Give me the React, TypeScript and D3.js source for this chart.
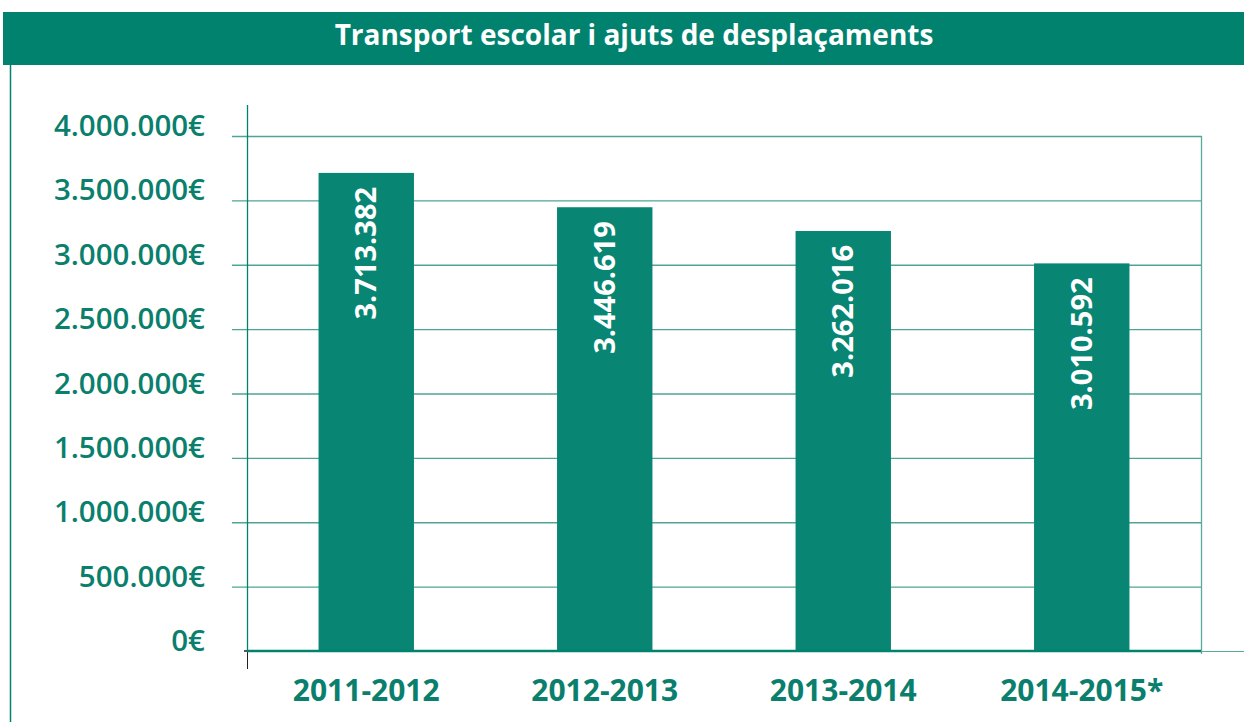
import React from 'react';
import * as d3 from 'd3';

const title = 'Transport escolar i ajuts de desplaçaments';
const categories = ['2011-2012', '2012-2013', '2013-2014', '2014-2015*'];
const values = [3713382, 3446619, 3262016, 3010592];
const yTicks = [0, 500000, 1000000, 1500000, 2000000, 2500000, 3000000, 3500000, 4000000];

const W = 1244;
const H = 722;
const margin = { top: 136, right: 43, bottom: 71, left: 247 };
const green = '#00826f';
const barGreen = '#088573';
const textGreen = '#0a7f6d';
const font = '"Open Sans", "DejaVu Sans", sans-serif';

function fmt(v: number) {
  return d3.format(',')(v).replace(/,/g, '.');
}

export default function App() {
  const innerW = W - margin.left - margin.right;
  const innerH = H - margin.top - margin.bottom;

  const x = d3.scaleBand().domain(categories).range([0, innerW]).paddingInner(0.6).paddingOuter(0.3);
  const y = d3.scaleLinear().domain([0, 4000000]).range([innerH, 0]);

  return (
    <svg width={W} height={H} style={{ position: 'absolute', left: 0, top: 0, background: '#fff' }}>
      <rect x={3} y={12} width={W - 3} height={53} fill={green} />
      <text x={634} y={45} textAnchor="middle" fill="#fff" fontFamily={font} fontWeight={700} fontSize={28}>
        {title}
      </text>
      <line x1={10.5} x2={10.5} y1={65} y2={H} stroke={green} strokeWidth={1.5} />

      <g transform={`translate(${margin.left},${margin.top})`}>
        {yTicks.map(t => (
          <g key={t}>
            {t > 0 && (
              <line x1={-15} x2={innerW + 1} y1={y(t) + 0.5} y2={y(t) + 0.5} stroke="#4fa595" strokeWidth={1.3} />
            )}
            <text x={-42} y={y(t) - 0} textAnchor="end" fill={textGreen} fontFamily={font} fontWeight={600} fontSize={29.5}>
              {fmt(t) + '€'}
            </text>
          </g>
        ))}
        <line x1={0.5} x2={0.5} y1={-31} y2={innerH} stroke={green} strokeWidth={1.3} />
        <line x1={0.5} x2={0.5} y1={innerH} y2={innerH + 18} stroke="#222" strokeWidth={1} />
        <line x1={innerW + 0.5} x2={innerW + 0.5} y1={0} y2={innerH + 3} stroke="#5aaa9b" strokeWidth={1.3} />
        <line x1={innerW} x2={W - margin.left} y1={innerH + 0.5} y2={innerH + 0.5} stroke="#5aaa9b" strokeWidth={1} />
        <line x1={-3} x2={0} y1={innerH} y2={innerH} stroke="#222" strokeWidth={1.5} />

        {categories.map((c, i) => (
          <g key={c}>
            <rect x={x(c)} y={y(values[i])} width={x.bandwidth()} height={innerH - y(values[i])} fill={barGreen} />
            <text
              transform={`translate(${(x(c) as number) + x.bandwidth() / 2 + 10},${y(values[i]) + 14}) rotate(-90)`}
              textAnchor="end"
              fill="#fff"
              fontFamily={font}
              fontWeight={700}
              fontSize={29}
            >
              {fmt(values[i])}
            </text>
            <text
              x={(x(c) as number) + x.bandwidth() / 2}
              y={innerH + 50}
              textAnchor="middle"
              fill={textGreen}
              fontFamily={font}
              fontWeight={700}
              fontSize={30}
            >
              {c}
            </text>
          </g>
        ))}
        <line x1={0} x2={innerW} y1={innerH} y2={innerH} stroke={green} strokeWidth={2.5} />
      </g>
    </svg>
  );
}
